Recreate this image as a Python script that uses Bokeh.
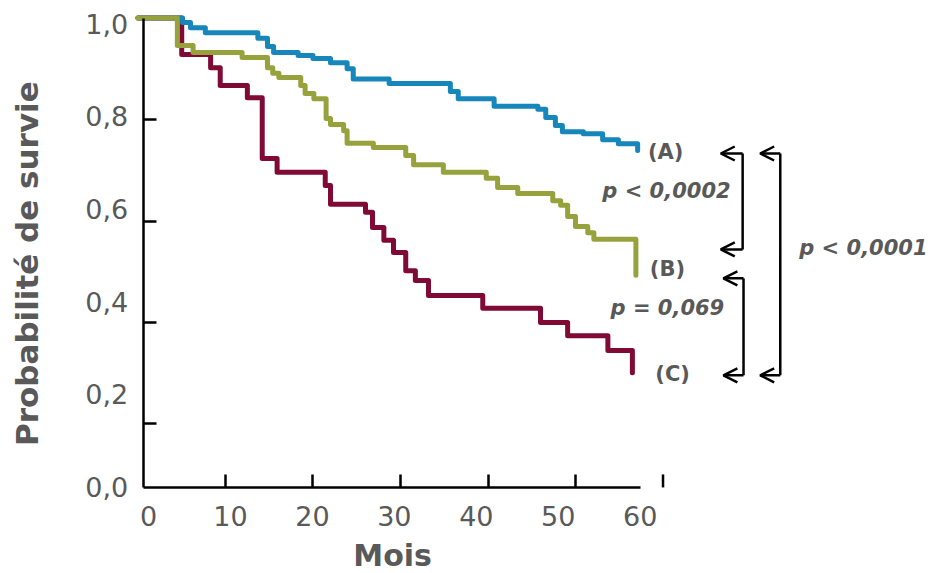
import numpy as np
from bokeh.plotting import figure
from bokeh.models import (LinearAxis, FixedTicker, CustomJSTickFormatter,
                          Arrow, OpenHead, Range1d)
from bokeh.embed import file_html
from bokeh.resources import INLINE
from bokeh.core.properties import value

# Kaplan-Meier steps: event time (months) and survival probability after the event
time_a = [5.1, 6.0, 7.7, 13.7, 14.8, 15.5, 18.3, 20.0, 22.0, 23.9, 24.6, 28.7,
          35.7, 36.6, 40.7, 45.7, 46.6, 47.7, 48.5, 50.9, 53.1, 54.9, 57.1]
surv_a = [0.991, 0.981, 0.971, 0.960, 0.944, 0.932, 0.926, 0.920, 0.912, 0.900,
          0.880, 0.871, 0.855, 0.841, 0.826, 0.820, 0.804, 0.788, 0.776, 0.772,
          0.760, 0.752, 0.739]

time_b = [4.5, 6.3, 11.9, 14.8, 15.4, 16.1, 18.6, 19.1, 20.1, 21.5, 22.0, 23.5,
          23.9, 26.9, 30.6, 31.5, 34.9, 39.8, 41.1, 43.4, 47.4, 48.3, 49.1, 50.0,
          51.4, 52.1, 56.9]
surv_b = [0.946, 0.932, 0.922, 0.902, 0.891, 0.883, 0.867, 0.851, 0.841, 0.802,
          0.790, 0.778, 0.753, 0.745, 0.729, 0.711, 0.696, 0.684, 0.666, 0.654,
          0.640, 0.631, 0.609, 0.589, 0.577, 0.564, 0.493]

time_c = [5.0, 8.3, 9.4, 12.5, 14.2, 15.9, 21.4, 22.0, 26.0, 26.8, 28.1, 29.2,
          30.6, 31.7, 33.2, 39.4, 46.0, 49.1, 53.7, 56.5]
surv_c = [0.928, 0.902, 0.867, 0.843, 0.723, 0.696, 0.670, 0.633, 0.617, 0.587,
          0.562, 0.538, 0.502, 0.483, 0.453, 0.428, 0.400, 0.374, 0.345, 0.301]

group_names = ["(A)", "(B)", "(C)"]
p_texts = ["p < 0,0002", "p = 0,069", "p < 0,0001"]

xtick_vals = [10, 20, 30, 40, 50]
xtick_last = 60
xtick_labels = ["0", "10", "20", "30", "40", "50", "60"]
ytick_vals = [0.2, 0.4, 0.6, 0.8]
ytick_labels = ["0,0", "0,2", "0,4", "0,6", "0,8", "1,0"]

x_title = "Mois"
y_title = "Probabilité de survie"

BLUE, GREEN, RED = "#1786BB", "#97A23C", "#7F0A36"
GREY = "#595959"
FONT = "DejaVu Sans"

# the data frame covers the whole canvas; axes sit at fixed data positions inside it
AX_X, AX_Y = 0.6, 0.075          # where the y axis and x axis lines are placed
AX_X_END, AX_Y_END = 57.43, 1.0  # far ends of the axis lines

p = figure(width=933, height=573, x_range=Range1d(-15.71, 90.91),
           y_range=Range1d(-0.0946, 1.0345), x_axis_type=None, y_axis_type=None,
           output_backend="svg", toolbar_location=None, min_border=0,
           outline_line_color=None, background_fill_color="white",
           border_fill_color="white")

blank = CustomJSTickFormatter(code="return '';")

# tick-mark axes (no labels)
tick_style = dict(major_tick_in=13, major_tick_out=0, major_label_standoff=0,
                  axis_line_width=2.5, axis_line_color="black",
                  major_tick_line_width=2.5, major_tick_line_color="black",
                  minor_tick_line_color=None, formatter=blank)
p.add_layout(LinearAxis(ticker=FixedTicker(ticks=ytick_vals), bounds=(AX_Y, AX_Y_END),
                        fixed_location=AX_X, **tick_style), "left")
p.add_layout(LinearAxis(ticker=FixedTicker(ticks=xtick_vals), bounds=(AX_X, AX_X_END),
                        fixed_location=AX_Y, **tick_style), "below")

# label axes (no line, no ticks), labels spread evenly along each axis
label_style = dict(axis_line_color=None, major_tick_line_color=None,
                   minor_tick_line_color=None, major_tick_in=0, major_tick_out=0,
                   major_label_text_font_size="27px", major_label_text_font=FONT,
                   major_label_text_color=GREY)
ylab_pos = list(np.linspace(AX_Y + 0.0005, 0.989, len(ytick_labels)))
xlab_pos = list(np.linspace(1.2, 57.4, len(xtick_labels)))
p.add_layout(LinearAxis(ticker=FixedTicker(ticks=ylab_pos), major_label_standoff=15,
                        fixed_location=AX_X,
                        formatter=CustomJSTickFormatter(args=dict(labels=ytick_labels),
                                                        code="return labels[index];"),
                        **label_style), "left")
p.add_layout(LinearAxis(ticker=FixedTicker(ticks=xlab_pos), major_label_standoff=19,
                        fixed_location=AX_Y,
                        formatter=CustomJSTickFormatter(args=dict(labels=xtick_labels),
                                                        code="return labels[index];"),
                        **label_style), "below")

# isolated tick at 60 months, beyond the end of the axis line
p.segment(x0=[xtick_last], x1=[xtick_last], y0=[AX_Y], y1=[AX_Y + 13 / 507.6],
          line_color="black", line_width=2.5)

# survival curves
for t, s, c in [(time_c, surv_c, RED), (time_a, surv_a, BLUE), (time_b, surv_b, GREEN)]:
    p.step(x=[0] + t, y=[1.0] + s, mode="after", line_color=c, line_width=5,
           line_join="round", line_cap="round")

# group labels next to curve ends
p.text(x=[60.3, 60.5, 61.1], y=[0.735, 0.506, 0.298], text=group_names,
       text_font=value(FONT), text_font_style="bold", text_font_size="21px",
       text_color=GREY, text_align="center", text_baseline="middle")

# p-values
p.text(x=[60.4, 60.5, 82.9], y=[0.660, 0.428, 0.546], text=p_texts,
       text_font=value(FONT), text_font_style="bold italic", text_font_size="21px",
       text_color=GREY, text_align="center", text_baseline="middle")

# comparison brackets: (vertical x, arrow tip x, top y, bottom y)
brackets = [(69.1, 66.6, 0.733, 0.544),
            (69.2, 66.9, 0.487, 0.296),
            (73.4, 71.1, 0.733, 0.296)]
for xv, xt, yt, yb in brackets:
    p.segment(x0=[xv], x1=[xv], y0=[yt], y1=[yb], line_color="black", line_width=2.5)
    for yy in (yt, yb):
        p.add_layout(Arrow(end=OpenHead(size=14, line_width=2.5, line_color="black"),
                           x_start=xv, y_start=yy, x_end=xt, y_end=yy,
                           line_color="black", line_width=2.5))

# axis titles
p.text(x=[29.1], y=[-0.0601], text=[x_title], text_align="center",
       text_baseline="middle", text_font=value(FONT), text_font_style="bold",
       text_font_size="30px", text_color=GREY)
p.text(x=[-12.7], y=[0.516], text=[y_title], angle=np.pi / 2,
       text_align="center", text_baseline="middle", text_font=value(FONT),
       text_font_style="bold", text_font_size="31px", text_color=GREY)

open("out.html", "w").write(file_html(p, INLINE))
